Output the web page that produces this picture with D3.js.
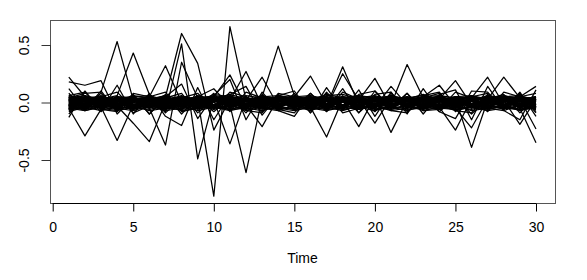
<!DOCTYPE html>
<html><head><meta charset="utf-8">
<script src="https://cdn.jsdelivr.net/npm/d3@7"></script>
<style>body{margin:0;background:#fff}svg{display:block}text{font-family:"Liberation Sans",Arial,Helvetica,sans-serif;fill:#000}</style>
</head><body>
<script>
const times = d3.range(1, 31);
const xTicks = [0, 5, 10, 15, 20, 25, 30];
const yTicks = [-0.5, 0.0, 0.5];
const yTickLabels = ["-0.5", "0.0", "0.5"];
const xLabel = "Time";

// dense band series
const band = [
[.02,-.03,.04,-.01,.03,-.05,.01,.04,-.02,.05,.03,-.04,.02,.01,-.03,.04,-.02,.03,.05,-.01,.02,-.04,.03,.01,-.02,.04,-.03,.02,.01,-.04],
[-.04,.01,-.02,.05,-.03,.02,-.05,.01,.03,-.02,.06,.01,-.03,.04,.02,-.05,.03,.01,-.02,.04,-.03,.02,.05,-.04,.01,-.02,.03,-.05,.04,.02],
[.05,-.02,.01,-.04,.02,.04,-.03,-.01,.05,.02,-.03,.04,.01,-.05,.03,.02,.04,-.03,.01,.05,-.02,.03,-.04,.02,.05,-.01,.02,.04,-.03,.01],
[-.01,.04,-.05,.02,.05,-.03,.03,-.04,.01,.04,.02,-.02,.05,.03,-.04,.01,-.03,.05,.02,-.04,.04,.01,-.02,.05,-.03,.02,-.05,.03,.02,-.02],
[.03,-.05,.02,.01,-.04,.05,-.02,.03,-.05,.01,.05,.02,-.04,.02,.05,-.02,.01,.03,-.04,.02,.01,.05,-.03,-.02,.04,-.04,.01,-.02,.05,-.05],
[-.06,.02,.03,-.03,.01,-.02,.04,-.06,.02,.03,-.01,.05,-.02,-.04,.01,.03,-.05,.02,.04,-.03,-.05,.02,.01,.03,-.05,.03,.04,-.01,-.03,.03],
[.01,.05,-.04,.03,-.06,.01,.02,.03,-.04,-.03,.04,-.05,.03,.05,-.02,-.03,.05,-.04,.03,.01,.04,-.05,.02,-.03,.02,.05,-.04,.03,-.01,.04],
[-.03,-.01,.05,-.05,.04,.03,-.04,.02,.04,-.05,.02,.03,-.01,-.02,.04,.05,-.01,-.05,.02,.03,-.02,.04,-.05,.04,.03,-.03,.02,.05,-.04,-.03],
[.04,.03,-.03,.04,-.02,-.04,.05,-.02,-.03,.03,.01,-.03,.04,.03,-.05,.02,.03,.01,-.05,.05,.03,-.01,.04,-.05,-.01,.01,.05,-.04,.03,.05],
[-.05,.04,.01,-.02,.03,.05,-.01,.05,.01,-.04,.03,-.01,-.05,.05,.01,-.04,.04,.03,.01,-.05,.05,.03,-.02,.01,.04,-.05,.03,.01,.04,-.01],
[.02,-.04,-.03,.05,.04,-.01,-.05,.03,.02,.05,-.04,.04,.03,-.03,.04,.01,-.04,.05,-.03,.02,-.04,.05,.03,-.03,.02,.04,-.02,-.04,.02,.03],
[-.02,.03,.05,-.04,-.05,.03,.04,-.03,.05,.01,-.02,.05,-.04,.02,-.01,.05,.02,-.02,.04,-.02,.03,-.03,.05,.02,-.04,.01,.04,.03,-.05,.01],
[.00,-.06,.03,.02,.04,-.04,.02,.05,-.05,.04,.02,-.05,.01,.04,.03,-.03,.01,.04,-.03,.04,.01,.02,-.04,.05,.01,-.03,.03,-.02,.04,-.04],
[.03,.02,-.05,-.03,.02,.05,-.06,.01,.04,-.03,.05,.01,.04,-.05,.02,.04,-.05,.01,.05,-.04,.02,.04,.01,-.04,.05,.03,-.05,.04,.01,.05],
[-.04,-.02,.04,.03,-.05,.02,.03,-.05,.03,.04,-.05,.03,.02,.05,-.04,.03,.05,-.04,.02,.03,-.05,.01,.05,.03,-.04,.05,.01,-.03,.05,-.02],
[.05,.01,-.01,-.05,.05,-.05,.04,.03,-.01,.02,.04,-.04,.05,.01,.03,-.05,.02,.04,-.01,.05,.04,-.02,.02,-.03,.03,.02,-.04,.05,-.03,.02],
[-.03,.05,.02,.04,-.03,.04,-.04,.02,.05,-.05,.01,.04,-.03,.03,.05,.02,-.04,.03,.04,-.05,.03,.05,-.04,.04,.02,-.05,.05,.01,.03,-.05],
[.01,-.03,-.04,.01,.05,-.03,.05,-.04,.03,.03,-.04,.02,.04,-.04,.01,.04,.03,-.05,.05,.01,-.04,.03,.04,-.05,.05,.03,.02,-.05,.04,.04],
[-.05,.03,.05,-.02,.01,.04,-.02,.04,-.05,.05,.03,-.05,.02,.05,-.03,.01,.05,.02,-.05,.04,.05,-.04,.01,.03,-.03,.04,-.03,.04,.02,-.03],
[.04,-.05,.01,.03,-.04,.01,.05,-.03,.02,-.04,.05,.03,-.05,.02,.04,-.04,.03,.05,.02,-.03,.01,.04,-.05,.02,.04,-.04,.05,.02,-.05,.03],
[-.07,-.02,.01,-.06,.02,-.04,-.01,-.06,.03,-.03,-.05,.01,-.06,-.02,.02,-.05,-.03,.01,-.06,-.02,.03,-.05,-.01,-.06,.01,-.04,-.02,-.06,.02,-.05],
[-.02,-.07,-.03,.02,-.06,-.01,-.05,.02,-.06,-.02,.01,-.06,-.03,.02,-.06,-.01,-.05,-.03,.01,-.06,-.04,.02,-.06,-.02,-.05,.01,-.06,-.03,-.01,-.06],
[.06,.03,.06,.01,.05,.06,.02,.06,.01,.07,.05,.02,.06,.03,.06,.02,.07,.04,.06,.03,.06,.02,.05,.06,.01,.06,.03,.05,.06,.02],
[-.06,-.04,-.07,-.03,-.06,-.02,-.07,-.05,-.03,-.06,-.02,-.07,-.04,-.06,-.03,-.07,-.02,-.06,-.04,-.07,-.03,-.06,-.05,-.02,-.07,-.04,-.06,-.03,-.07,-.04],
[.03,.06,-.02,.05,.02,.03,.06,-.01,.06,.02,.07,.03,-.01,.06,.04,.02,.06,.07,.03,.01,.06,.03,.07,.02,.05,.06,.01,.06,.03,.05],
[-.04,-.06,-.02,-.05,-.07,-.03,-.05,-.02,-.07,-.04,-.06,-.03,-.05,-.07,-.02,-.06,-.04,-.07,-.03,-.05,-.06,-.02,-.07,-.04,-.06,-.03,-.05,-.07,-.02,-.06],
[.00,.02,-.01,.01,.00,-.02,.02,.00,-.01,.03,.01,-.02,.00,.02,-.01,.01,.03,-.02,.00,.02,-.01,.01,-.02,.03,.00,-.01,.02,.00,-.02,.01],
[-.01,.00,.02,-.02,.01,.02,-.01,.01,.00,.02,-.02,.00,.03,-.01,.01,-.02,.02,.00,.01,-.01,.02,-.02,.01,.00,-.01,.02,-.01,.01,.03,-.01],
[.02,-.01,.00,.03,-.02,.00,.01,-.02,.02,.01,.03,-.01,.01,.00,.02,.01,-.01,.02,-.02,.01,.00,.03,-.01,.01,.02,-.02,.00,.02,-.01,.00],
[-.03,.01,-.02,.00,.02,-.03,.00,.03,-.02,.01,.02,-.03,-.01,.03,-.02,.00,.01,-.03,.02,-.01,-.02,.01,.03,-.02,.00,.02,-.03,.01,-.02,.02],
[.05,.03,.05,.02,.06,.04,.01,.05,.03,.06,.04,.02,.05,.06,.03,.04,.05,.02,.06,.04,.03,.05,.02,.06,.04,.05,.03,.06,.02,.05],
[-.05,-.07,-.04,-.06,-.03,-.07,-.05,-.06,-.04,-.02,-.06,-.05,-.07,-.03,-.06,-.05,-.07,-.04,-.06,-.03,-.07,-.05,-.04,-.06,-.02,-.07,-.05,-.04,-.06,-.05],
[.04,.06,.03,.05,.04,.02,.06,.03,.05,.05,.03,.06,.04,.02,.05,.06,.03,.05,.04,.06,.02,.04,.06,.03,.05,.02,.06,.04,.05,.03],
[-.06,-.03,-.05,-.07,-.04,-.06,-.03,-.07,-.05,-.04,-.07,-.04,-.02,-.05,-.07,-.04,-.06,-.05,-.02,-.06,-.04,-.07,-.03,-.05,-.06,-.04,-.07,-.05,-.03,-.06],
[.01,-.04,.04,-.03,.00,.03,-.04,.02,-.01,.04,-.03,.01,.03,-.04,.00,.02,-.03,.04,-.02,.01,-.04,.03,.00,-.03,.04,-.01,.02,-.04,.03,-.02],
[-.02,.03,-.04,.04,-.01,-.03,.03,-.03,.04,-.02,.01,-.04,.03,.00,-.04,.03,.01,-.03,.04,-.03,.02,-.02,.04,-.01,-.03,.03,-.04,.02,.00,.04],
[.03,-.02,.00,-.05,.04,.01,-.03,.05,-.04,.00,.04,-.02,-.04,.04,.01,-.05,.02,.03,-.04,.05,-.02,.00,.03,-.05,.04,-.02,.00,.05,-.04,.01],
[-.04,.04,.02,.00,-.05,.04,.01,-.02,.04,-.05,.02,.04,-.01,-.03,.05,.00,-.04,.04,.01,-.03,.05,-.04,.00,.04,-.02,.03,-.03,.01,.04,-.04],
[.00,.01,-.03,.03,.02,-.05,.03,.01,-.03,.02,.00,-.03,.02,.04,-.04,.02,-.02,.00,.03,-.04,.02,.01,-.03,.03,.00,-.04,.02,.03,-.03,.01],
[-.06,.00,-.04,-.01,-.05,.01,-.06,-.03,.00,-.05,-.02,-.06,.00,-.04,-.06,-.01,-.05,-.02,-.06,.00,-.05,-.03,-.06,.01,-.04,-.06,-.02,-.05,-.06,-.01],
[.02,.05,.00,.04,.01,.05,-.01,.04,.02,.05,.00,.04,.01,.05,.03,-.01,.04,.02,.05,.01,.04,-.01,.05,.02,.03,.05,.00,.04,.02,.05],
[-.03,-.05,-.01,-.06,-.02,-.04,-.06,-.01,-.05,-.03,-.06,-.02,-.04,-.06,-.03,-.05,-.01,-.06,-.04,-.02,-.06,-.03,-.05,-.01,-.06,-.03,-.05,-.02,-.06,-.04],
[.01,.03,-.02,.02,.04,-.01,.01,.04,-.02,.03,-.01,.02,.04,-.02,.01,.03,-.01,.04,.00,.02,-.02,.03,.01,.04,-.02,.02,.00,.04,-.01,.03],
[-.01,-.03,.02,-.04,.00,-.02,.02,-.04,.01,-.03,.00,-.04,.02,-.02,.00,-.04,.01,-.03,.02,-.04,.00,-.02,.01,-.04,.02,-.03,.00,-.02,.01,-.03]
];

// medium amplitude series
const medium = [
[.08,-.07,.05,.09,-.05,.07,-.09,.04,.08,-.06,.09,.05,-.08,.07,-.04,.08,-.07,.09,.03,-.08,.07,-.05,.06,.09,-.08,.05,.08,-.04,.07,-.09],
[-.10,.05,-.08,.06,-.09,-.03,.07,-.10,.05,-.08,.04,-.09,.07,-.06,-.09,.05,-.08,.06,-.09,.04,-.07,-.09,.05,-.08,.04,-.10,.03,.07,-.09,.05],
[.06,.09,-.06,-.08,.08,.05,.09,-.08,-.05,.08,-.08,.09,.04,-.07,.08,-.09,.09,-.06,.07,.10,-.05,.08,-.07,-.06,.09,.04,-.08,.09,.05,.08],
[-.08,-.04,.08,-.07,.06,-.10,.04,.08,-.09,.03,.07,-.07,-.09,.08,.05,-.06,.08,-.09,-.05,.07,.09,-.08,.04,.08,-.07,-.09,.07,-.06,.08,-.08],
[.12,-.06,.10,-.08,.07,-.10,.05,.16,-.14,.06,.20,-.15,.09,-.07,-.12,.08,-.06,.12,-.09,.10,-.05,.08,-.10,.07,.11,-.15,.14,-.06,.09,-.12],
[-.13,.10,-.07,.15,-.10,.08,-.12,-.20,.13,-.15,.07,.14,-.11,.06,.10,-.09,.13,-.07,.11,-.12,.09,-.10,.12,-.08,-.14,.10,.09,-.07,-.15,.11]
];

// series with large spikes
const spiky = [
[.22,.05,-.04,-.33,-.02,.03,-.05,.04,.02,-.03,.05,-.02,.03,-.04,.02,.05,-.03,.31,-.02,.04,-.03,.02,.05,-.04,.03,-.39,.02,-.03,.04,-.02],
[.18,.15,.19,-.10,.04,-.03,.05,-.02,.03,.02,-.36,.04,-.02,.03,-.05,.02,.04,-.03,.02,-.04,.14,-.02,.03,.05,-.03,.02,-.04,.03,-.05,-.35],
[-.05,-.29,-.06,.03,-.04,.02,-.08,.51,-.49,.03,-.02,.04,-.03,.02,.05,-.04,-.30,.03,-.02,.04,-.03,.02,-.04,.03,.19,-.02,.04,-.03,.02,.03],
[.04,.08,.09,.53,.02,-.04,.03,-.02,.05,.12,-.03,.02,-.04,.03,.05,.23,-.02,.04,-.03,.02,.05,-.03,.02,.04,-.05,-.22,.03,.22,.04,-.02],
[-.02,.05,.03,.06,.43,.07,-.03,.04,-.02,.05,.24,-.04,.03,.02,-.05,.04,-.03,.02,-.21,.05,-.02,.33,.04,-.03,.02,-.04,.05,-.02,.03,-.23],
[.03,-.04,.02,-.03,-.18,-.34,.00,.04,-.02,.03,-.05,.02,.22,-.03,.04,-.02,.05,-.03,.02,.21,-.04,.03,-.02,.05,-.03,.04,.22,-.02,.03,-.04],
[-.03,.02,-.04,.05,-.02,-.05,-.37,.35,.04,-.03,.02,-.04,.05,.49,.06,-.03,.02,-.04,.03,.05,-.26,.02,-.03,.04,-.02,.03,-.05,.02,-.19,.03],
[.05,-.03,.02,-.04,.03,.05,.32,.00,-.03,.04,.02,.27,-.03,.05,-.02,.03,-.04,.25,.02,-.03,.04,-.02,.05,.15,-.03,.02,-.04,.03,.05,.14],
[-.02,.04,-.03,.02,.05,-.02,.05,.60,.34,-.24,.03,-.02,-.21,.04,-.03,.02,.05,-.02,.03,-.18,.04,-.03,.02,-.04,-.24,.03,-.02,.04,-.03,.02],
[.02,-.03,.04,-.02,.03,-.04,.05,-.02,.03,-.815,.66,.02,-.04,.03,-.02,.05,-.03,.02,.04,-.02,.03,-.05,.02,.04,-.03,.02,.05,-.02,.03,-.04],
[-.03,.02,.05,-.03,.02,.04,-.02,.03,-.04,.02,-.02,-.61,.04,-.03,.02,.05,-.02,.03,-.04,.02,.05,-.03,.02,-.04,.03,-.02,.04,.03,-.05,.02]
];

const W = 587, H = 280;
const svg = d3.select("body").append("svg").attr("width", W).attr("height", H);

const x = d3.scaleLinear().domain([0, 30]).range([52.7, 536]);
const y = d3.scaleLinear().domain([-0.5, 0.5]).range([160, 45]);
const box = {l: 50.5, r: 555.5, t: 20.5, b: 203.5};

const allSeries = band.concat(medium, spiky);
const line = d3.line().x((d, i) => x(times[i])).y(d => y(d));

svg.append("g").selectAll("path").data(allSeries).join("path")
  .attr("d", line).attr("fill", "none").attr("stroke", "#000").attr("stroke-width", 1.25)
  .attr("stroke-linejoin", "round");

// box
svg.append("rect").attr("x", box.l).attr("y", box.t)
  .attr("width", box.r - box.l).attr("height", box.b - box.t)
  .attr("fill", "none").attr("stroke", "#555").attr("stroke-width", 1);

// x axis
const gx = svg.append("g").attr("transform", `translate(0,${box.b})`)
  .call(d3.axisBottom(x).tickValues(xTicks).tickSize(8).tickSizeOuter(0).tickPadding(11).tickFormat(d3.format("d")));
gx.select(".domain").attr("stroke", "#000").attr("d", `M${x(0)},0H${x(30)}`);
gx.selectAll("line").attr("stroke", "#000");
gx.selectAll("text").style("font-size", "14px").attr("fill", "#000");

// y axis
const gy = svg.append("g").attr("transform", `translate(${box.l},0)`)
  .call(d3.axisLeft(y).tickValues(yTicks).tickSize(9).tickSizeOuter(0).tickFormat((d, i) => yTickLabels[i]));
gy.select(".domain").attr("stroke", "#333").attr("d", `M0,${y(-0.5)}V${y(0.5)}`);
gy.selectAll("line").attr("stroke", "#333");
gy.selectAll("text").remove();
gy.selectAll(".tick").append("text")
  .attr("transform", "translate(-22,0) rotate(-90)")
  .attr("text-anchor", "middle").attr("dy", 0)
  .style("font-size", "14px").text((d, i) => yTickLabels[i]);

svg.append("text").attr("x", 302.5).attr("y", 263).attr("text-anchor", "middle")
  .style("font-size", "14px").text(xLabel);
</script>
</body></html>
